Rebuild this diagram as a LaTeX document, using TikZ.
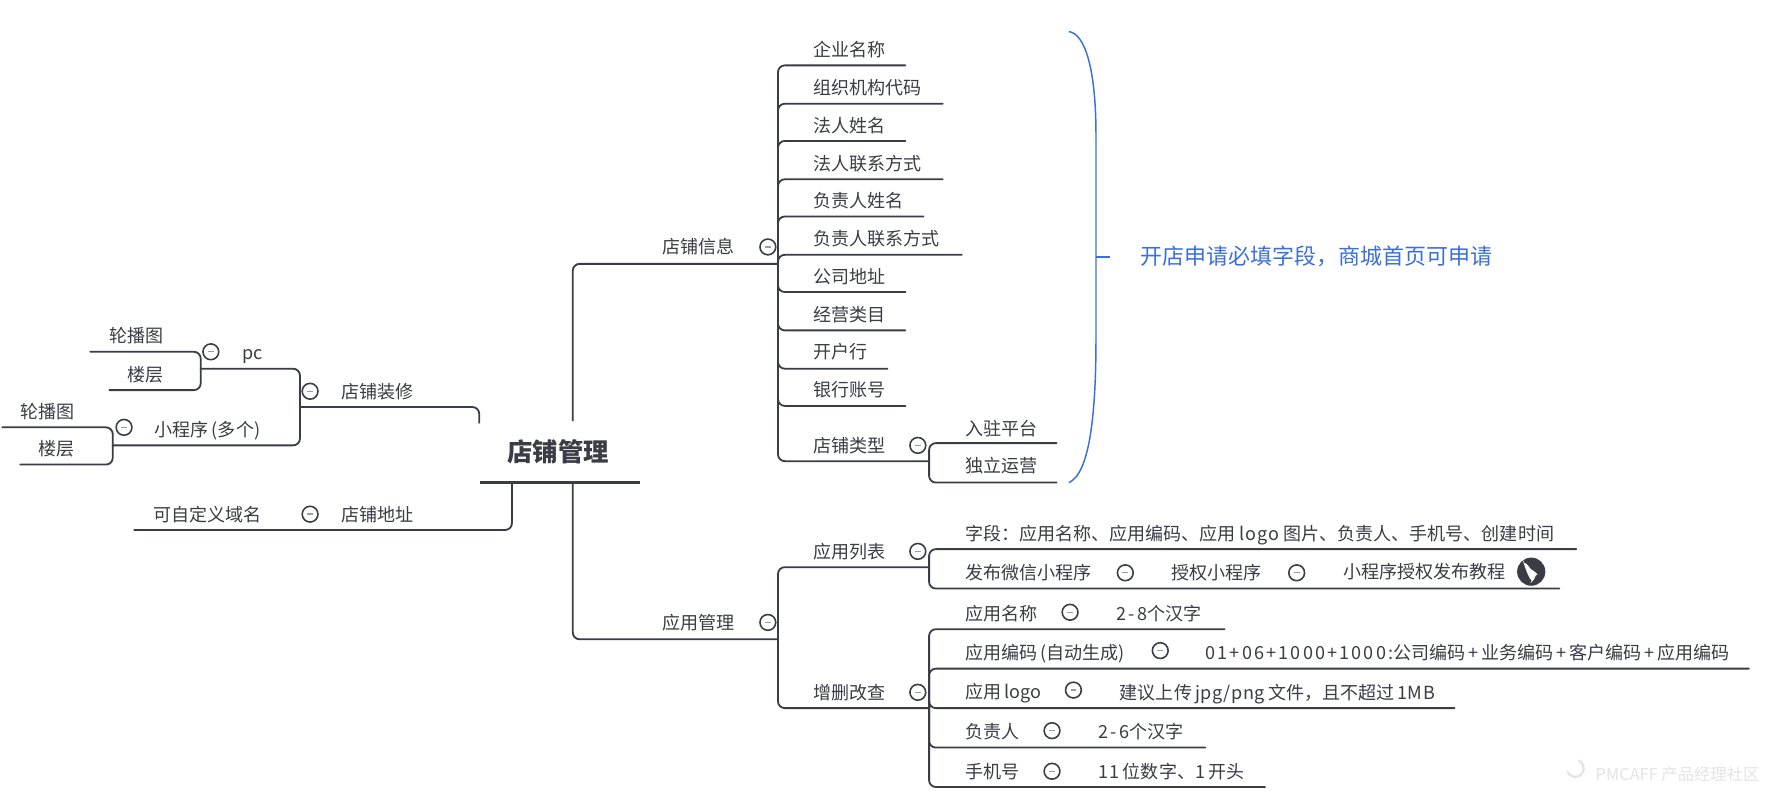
\documentclass[tikz,border=0pt]{standalone}
\usepackage{fontspec}
\setmainfont{Noto Sans CJK SC}
\definecolor{ink}{HTML}{3A3C46}
\definecolor{bluetxt}{HTML}{3B6FDB}
\definecolor{minusgray}{HTML}{9A9CA6}
\definecolor{wm}{HTML}{E4E4E6}
\tikzset{
  conn/.style={draw=ink,line width=1.6pt,rounded corners=6pt,line cap=round},
  txt/.style={anchor=west,inner sep=0pt,text=ink,font=\fontsize{16}{18}\selectfont,text height=14.08pt,text depth=1.92pt},
  ctxt/.style={txt,anchor=center},
  mcirc/.style={circle,draw=ink,line width=1.4pt,minimum size=14pt,inner sep=0pt,fill=white},
  mdash/.style={draw=minusgray,line width=1.2pt},
  bluebr/.style={draw=bluetxt,line width=1.3pt},
}
% name, x, y, text, line y, line end x : a text and the free end of its underline
\newcommand{\leafnode}[6]{\node[txt] (#1) at (#2,#3) {#4};\coordinate (#1-e) at (#6,#5);}
\newcommand{\minusnode}[3]{\node[mcirc] (#1) at (#2,#3) {};\draw[mdash] ([xshift=-2.6pt]#1.center) -- ([xshift=2.6pt]#1.center);}
\newcommand{\lat}[2][8]{{\addfontfeatures{LetterSpace=#1}#2}}
\begin{document}
\begin{tikzpicture}[x=1pt,y=-1pt]
\fill[white] (0,0) rectangle (1568,706);
\useasboundingbox (0,0) rectangle (1568,706);

% root
\node[inner sep=0pt,text=ink,font=\fontsize{22.5}{26}\selectfont\bfseries,text height=19.8pt,text depth=2.7pt] (root) at (495,401) {店铺管理};
\coordinate (rootL) at (426,428);
\coordinate (rootR) at (568,428);
\draw[conn,line width=2.1pt,line cap=butt] (rootL) -- (rootR);

% 店铺信息 branch
\coordinate (upT) at (508,373);
\coordinate (dnT) at (508,428);
\coordinate (leftT) at (454,428);
\coordinate (sp1) at (690,234);
\coordinate (sp2) at (690,567);
\draw[conn] (upT) |- (sp1);
\draw[conn] (dnT) |- (sp2);
\node[txt] (shopinfo) at (587,219) {店铺信息};
\minusnode{m1}{681}{219}

\leafnode{a1}{721}{44}{企业名称}{58}{803}
\leafnode{a2}{721}{78}{组织机构代码}{92}{836}
\leafnode{a3}{721}{111}{法人姓名}{125}{803}
\leafnode{a4}{721}{145}{法人联系方式}{159}{836}
\leafnode{a5}{721}{178}{负责人姓名}{192}{819}
\leafnode{a6}{721}{212}{负责人联系方式}{226}{853}
\leafnode{a7}{721}{245}{公司地址}{259}{803}
\leafnode{a8}{721}{279}{经营类目}{293}{803}
\leafnode{a9}{721}{312}{开户行}{327}{787}
\leafnode{a10}{721}{346}{银行账号}{360}{803}
\leafnode{a11}{721}{395}{店铺类型}{409}{824}
\foreach \n in {a1,a2,a3,a4,a5,a6,a7,a8,a9,a10,a11}{\draw[conn] (sp1) |- (\n-e);}
\minusnode{m2}{814}{395}
\coordinate (sp3) at (824,409);
\leafnode{b1}{856}{380}{入驻平台}{393}{937}
\leafnode{b2}{856}{413}{独立运营}{428}{937}
\foreach \n in {b1,b2}{\draw[conn] (sp3) |- (\n-e);}

% blue brace
\coordinate (brT) at (948,28);
\coordinate (brB) at (948,428);
\coordinate (brM) at (972,228);
\coordinate (brE) at (984,228);
\draw[bluebr] (brT) .. controls (962,30) and (972,60) .. (972,120) -- (brM) -- (972,300) .. controls (972,370) and (966,420) .. (brB);
\draw[bluebr] (brM) -- (brE);
\node[anchor=west,inner sep=0pt,text=bluetxt,font=\fontsize{19.5}{22}\selectfont,text height=17.16pt,text depth=2.34pt] (note) at (1011,227) {开店申请必填字段，商城首页可申请};

% 应用管理 branch
\node[txt] (appmgr) at (587,552) {应用管理};
\minusnode{m3}{681}{552}
\leafnode{c1}{721}{489}{应用列表}{503}{824}
\leafnode{c2}{721}{614}{增删改查}{628}{824}
\foreach \n in {c1,c2}{\draw[conn] (sp2) |- (\n-e);}
\minusnode{m4}{814}{489}
\minusnode{m5}{814}{614}

\coordinate (sp4) at (824,503);
\leafnode{d1}{856}{473}{字段：应用名称、应用编码、应用\hspace{3pt}\lat[6]{logo}\hspace{3.5pt}图片、负责人、手机号、创建时间}{487}{1398}
\leafnode{d2}{856}{508}{发布微信小程序}{522}{1383}
\foreach \n in {d1,d2}{\draw[conn] (sp4) |- (\n-e);}
\minusnode{m6}{998}{508}
\node[txt] (d3) at (1039,508) {授权小程序};
\minusnode{m7}{1150}{508}
\node[txt] (d4) at (1191,507) {小程序授权发布教程};
\node[circle,fill=ink,minimum size=25pt,inner sep=0pt] (linkicon) at (1358,507) {};
\fill[white] ([shift={(-6,-7.5)}]linkicon.center) .. controls +(2,-0.8) and +(-2,-2) .. ([shift={(-0.5,-2.5)}]linkicon.center) .. controls +(2,2) and +(4.5,-1) .. ([shift={(4,3.5)}]linkicon.center) .. controls +(-1,4) and +(-3.5,5) .. ([shift={(0.5,8)}]linkicon.center) .. controls +(-4,-3) and +(-4,-10) .. cycle;

\coordinate (sp5) at (824,628);
\leafnode{e1}{856}{544}{应用名称}{558}{1086}
\leafnode{e2}{856}{579}{应用编码\,(自动生成)}{593}{1551}
\leafnode{e3}{856}{613}{应用\,logo}{628}{1290}
\leafnode{e4}{856}{649}{负责人}{663}{1069}
\leafnode{e5}{856}{684}{手机号}{698}{1122}
\foreach \n in {e1,e2,e3,e4,e5}{\draw[conn] (sp5) |- (\n-e);}
\minusnode{m8}{949}{543}
\node[txt] (f1) at (990,544) {\lat[12]{2-8}个汉字};
\minusnode{m9}{1029}{577}
\node[txt] (f2) at (1069,579) {\lat[12]{01+06+1000+1000:}公司编码\,+\,业务编码\,+\,客户编码\,+\,应用编码};
\minusnode{m10}{952}{612}
\node[txt] (f3) at (993,614) {建议上传\,\lat[3]{jpg/png}\,文件，且不超过\,\lat[3]{1MB}};
\minusnode{m11}{933}{648}
\node[txt] (f4) at (974,649) {\lat[12]{2-6}个汉字};
\minusnode{m12}{933}{684}
\node[txt] (f5) at (974,684) {\lat[8]{11}\,位数字、\lat[8]{1}\,开头};

% left: 店铺装修
\coordinate (decoE) at (425,375);
\coordinate (sp6) at (266,361);
\draw[conn] (sp6) -| (decoE);
\node[ctxt] (deco) at (335,347) {店铺装修};
\minusnode{m13}{275}{347}
\coordinate (pcE) at (178,327);
\coordinate (mpE) at (100,395);
\draw[conn] (sp6) |- (pcE);
\draw[conn] (sp6) |- (mpE);
\node[ctxt] (pc) at (224,313) {pc};
\minusnode{m14}{187}{312}
\node[ctxt] (mp) at (184,381) {小程序\,(多个)};
\minusnode{m15}{110}{379}
\coordinate (g1e) at (80,312);
\coordinate (g2e) at (97,346);
\coordinate (h1e) at (2,379);
\coordinate (h2e) at (18,412);
\draw[conn] (pcE) |- (g1e);
\draw[conn] (pcE) |- (g2e);
\draw[conn] (mpE) |- (h1e);
\draw[conn] (mpE) |- (h2e);
\node[ctxt] (g1) at (121,298) {轮播图};
\node[ctxt] (g2) at (129,332) {楼层};
\node[ctxt] (h1) at (42,365) {轮播图};
\node[ctxt] (h2) at (50,398) {楼层};

% left: 店铺地址
\coordinate (addrE) at (119,470);
\draw[conn] (leftT) |- (addrE);
\node[ctxt] (addr) at (335,456) {店铺地址};
\minusnode{m16}{275}{456}
\node[ctxt] (domain) at (184,456) {可自定义域名};

% watermark
\node[anchor=west,inner sep=0pt,text=wm,font=\fontsize{14.5}{16}\selectfont] (wmark) at (1415,687) {PMCAFF 产品经理社区};
\coordinate (wmc) at (1397,687);
\draw[wm,line width=2pt] ([shift={(-7,-3)}]wmc) arc[start angle=200,end angle=430,radius=7.5pt];
\end{tikzpicture}
\end{document}
